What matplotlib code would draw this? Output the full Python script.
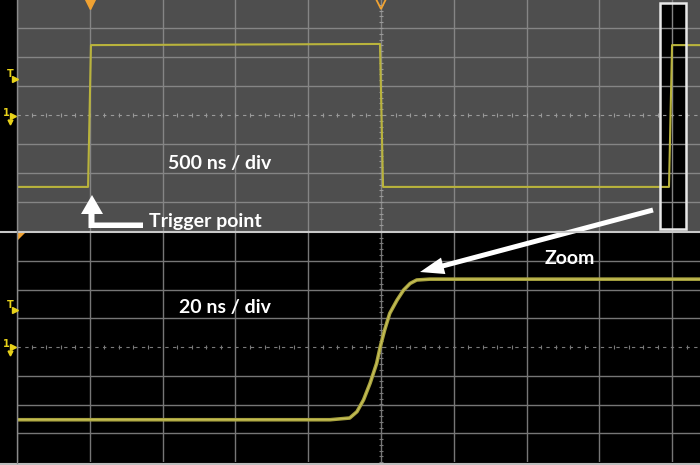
import numpy as np
import matplotlib
matplotlib.use("Agg")
import matplotlib.pyplot as plt
from matplotlib.patches import Rectangle, Polygon, FancyArrow

# Top trace: 500 ns / div, vertical in divisions
top_time_ns = [0, 488, 508, 2493, 2514, 4478, 4499, 4691]
top_level = [-2.48, -2.48, 2.41, 2.45, -2.48, -2.48, 2.41, 2.41]

# Bottom trace (zoomed rising edge): 20 ns / div
zoom_time_ns = [0, 86, 91.4, 93.4, 95.2, 97, 98.8, 99.8, 101, 102.4, 104.4,
                106.2, 108, 109.8, 113.4, 187.6]
zoom_level = [-2.53, -2.53, -2.47, -2.25, -1.84, -1.26, -0.57, 0.01, 0.59, 1.17,
              1.63, 1.98, 2.21, 2.33, 2.36, 2.36]

top_div_ns = 500
zoom_div_ns = 20

W, H = 700, 465
fig = plt.figure(figsize=(7, 4.65), dpi=100, facecolor="black")


def px_axes(x0, y0, x1, y1):
    return fig.add_axes([x0 / W, 1 - y1 / H, (x1 - x0) / W, (y1 - y0) / H])


# overlay in pixel coordinates (y down) for annotations
ov = fig.add_axes([0, 0, 1, 1], zorder=10)
ov.set_xlim(0, W)
ov.set_ylim(H, 0)
ov.axis("off")
ov.patch.set_alpha(0)


def scope_axes(ax, div_ns, bg, grid_col, center_col):
    ax.set_facecolor(bg)
    xmax = 683 / 72.8 * div_ns
    ax.set_xlim(0, xmax)
    ax.set_ylim(-4, 4)
    for v in np.arange(0, xmax, div_ns):
        ax.axvline(v, color=grid_col, lw=1, zorder=1)
    for h in [-3, -2, -1, 1, 2, 3]:
        ax.axhline(h, color=grid_col, lw=1, zorder=1)
    # center lines with minor ticks
    ax.axhline(0, color=center_col, lw=0.8, ls=(0, (3, 4)), zorder=1)
    xt = np.arange(0, xmax, div_ns / 5)
    ax.plot(xt, np.zeros(len(xt)), ls="none", marker="|", ms=3, mew=0.8,
            color=center_col, zorder=1)
    ys = np.arange(-4, 4.01, 0.2)
    ax.plot(np.full(len(ys), 5 * div_ns), ys, ls="none", marker="_", ms=3,
            mew=0.8, color=center_col, zorder=1)
    ax.set_xticks([])
    ax.set_yticks([])
    for s in ax.spines.values():
        s.set_visible(False)


ax_top = px_axes(17, -1, 700, 231)
scope_axes(ax_top, top_div_ns, "#4e4e4e", "#858585", "#9a9a9a")
ax_top.plot(top_time_ns, top_level, color="#b9b33c", lw=1.5, zorder=3)
# zoom window box
ax_top.add_patch(Rectangle((660, 3), 26, 226, transform=ov.transData,
                           facecolor="black", edgecolor="none", zorder=0.6))
ax_top.add_patch(Rectangle((660, 3), 26, 226, transform=ov.transData,
                           facecolor="none", edgecolor="#e8e8e8", lw=1.8, zorder=4))

ax_bot = px_axes(17, 232, 700, 462)
scope_axes(ax_bot, zoom_div_ns, "black", "#767676", "#7a7a7a")
ax_bot.plot(zoom_time_ns, zoom_level, color="#a8a23e", lw=2.6, zorder=3)
ax_bot.plot(zoom_time_ns, zoom_level, color="#c9c25a", lw=0.8, zorder=3.1)

# frame lines
ov.plot([0, 700], [232, 232], color="#c8c8c8", lw=1.5)
ov.plot([0, 700], [463.5, 463.5], color="#bdbdbd", lw=1.5)
ov.plot([17, 17], [0, 463], color="#8a8a8a", lw=1)

# left strip markers
yel = "#e8d21a"
for ty, cy in [(76, 116), (307, 347)]:
    ov.text(10, ty - 2, "T", color=yel, fontsize=7, fontweight="bold",
            ha="center", va="center", family="DejaVu Sans")
    ov.plot(15, ty + 3, marker=">", color=yel, ms=5)
    ov.text(6, cy - 3, "1", color=yel, fontsize=7, fontweight="bold",
            ha="center", va="center", family="DejaVu Sans")
    ov.plot(13, cy, marker=">", color=yel, ms=5)
    ov.plot(10, cy + 6, marker="v", color=yel, ms=3.5)

# trigger markers
ov.plot(90, 3, marker="v", color="#f0a232", ms=8)
ov.plot(381, 3, marker="v", mfc="none", mec="#f0a232", mew=1.3, ms=8)
ov.add_patch(Polygon([(18, 233), (25, 233), (18, 240)], closed=True,
                     facecolor="#f0a232", edgecolor="none"))

# annotations
txt = dict(color="white", fontsize=14, fontweight="bold", family="Lato",
           va="center")
ov.text(220, 163, "500 ns / div", ha="center", **txt)
ov.text(149, 221, "Trigger point", ha="left", **txt)
ov.text(225, 307, "20 ns / div", ha="center", **txt)
ov.text(570, 258, "Zoom", ha="center", **txt)

ov.add_patch(Polygon([(92, 195), (103, 214), (94.5, 214), (94.5, 222.5),
                      (143, 222.5), (143, 228), (88.5, 228), (88.5, 214),
                      (81, 214)], closed=True, facecolor="white",
                     edgecolor="none"))
ov.add_patch(FancyArrow(653, 210, 420 - 653, 272 - 210, width=5,
                        head_width=17, head_length=24,
                        length_includes_head=True, facecolor="white",
                        edgecolor="none"))

fig.savefig("out.png", dpi=100, facecolor="black")
